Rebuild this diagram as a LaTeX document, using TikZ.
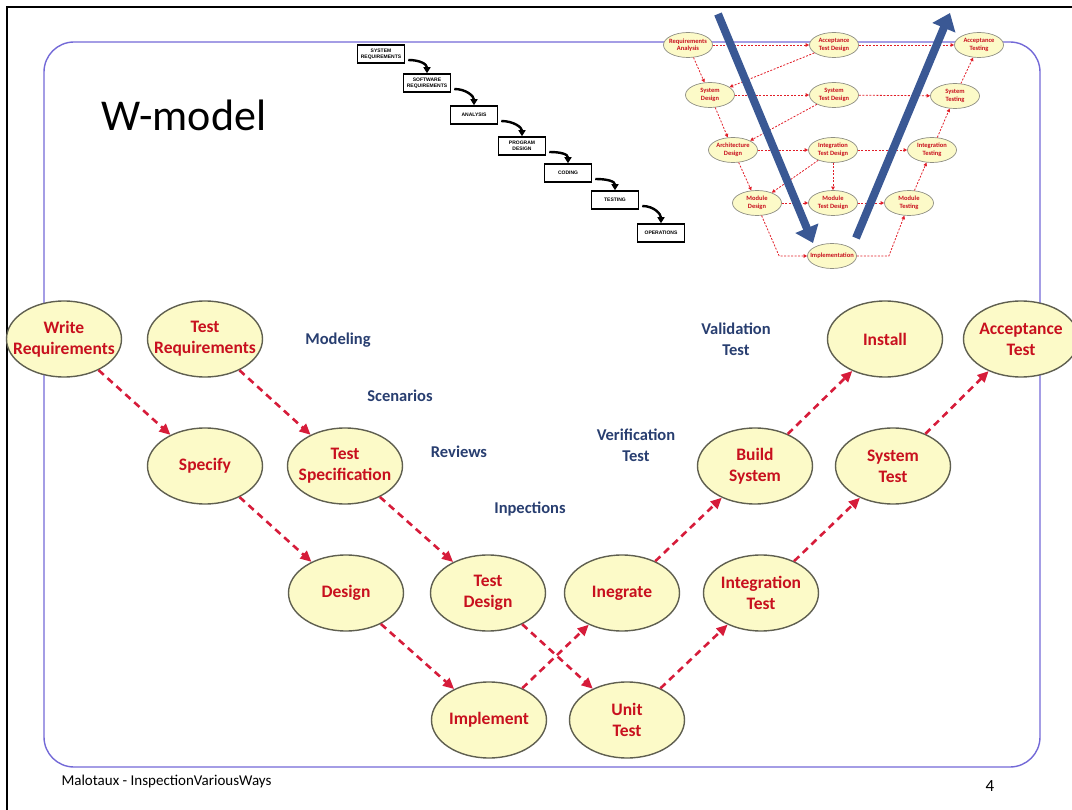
\documentclass[tikz,border=0pt]{standalone}
\usepackage{fontspec}
\setmainfont{Carlito}
\newfontfamily\wffont{Liberation Sans}
\usetikzlibrary{shapes.geometric,arrows.meta}
\definecolor{wfill}{RGB}{252,250,200}
\definecolor{wline}{RGB}{95,95,80}
\definecolor{wred}{RGB}{200,16,30}
\definecolor{warrow}{RGB}{214,28,58}
\definecolor{vred}{RGB}{225,30,40}
\definecolor{wblue}{RGB}{40,62,112}
\definecolor{wframe}{RGB}{115,105,215}
\definecolor{vblue}{RGB}{58,88,148}
\tikzset{
  wnode/.style={ellipse,draw=wline,line width=1.4pt,fill=wfill,minimum width=115pt,minimum height=76pt,
    inner xsep=-25pt,inner ysep=0pt,align=center,text=wred,font=\fontsize{17.5}{21}\selectfont\bfseries},
  wlink/.style={draw=warrow,line width=2.6pt,dash pattern=on 7pt off 5pt,-{Triangle[length=11pt,width=10pt]}},
  wlabel/.style={text=wblue,align=center,font=\fontsize{16.5}{21}\selectfont\bfseries},
  vnode/.style={ellipse,draw=wline!70,line width=0.7pt,fill=wfill,minimum width=49pt,minimum height=25pt,
    inner xsep=-8pt,inner ysep=0pt,align=center,text=wred,font=\fontsize{6.5}{7.5}\selectfont\bfseries},
  vlink/.style={draw=vred,line width=0.8pt,dash pattern=on 2pt off 1.5pt,-{Triangle[length=3.5pt,width=3.5pt]}},
  wfbox/.style={draw,line width=1.5pt,minimum width=47pt,minimum height=18pt,inner sep=1pt,align=center,
    font=\wffont\fontsize{5}{6}\selectfont\bfseries},
  wfarrow/.style={line width=2.4pt,-{Triangle[length=6pt,width=7pt]}},
  bigarrow/.style={draw=vblue,line width=8pt,-{Triangle[length=16pt,width=24pt]}}
}
\begin{document}
\begin{tikzpicture}[x=1pt,y=-1pt]
    \useasboundingbox (0,0) rectangle (1072,810);
    \draw[line width=2.5pt] (7,810) -- (7,7) -- (1072,7);
    \draw[wframe,line width=1.4pt,rounded corners=30pt] (44,42) rectangle (1040,767);
    \node[font=\fontsize{44}{50}\selectfont] (title) at (184,115) {W-model};
    \node[font=\fontsize{15}{17}\selectfont,anchor=west] (foot) at (58,781) {Malotaux - InspectionVariousWays};
    \node[font=\fontsize{17}{20}\selectfont] (page) at (990,786) {4};

    \node[wfbox] (wf1) at (381,54) {SYSTEM\\REQUIREMENTS}; \node[wfbox] (wf2) at (427,83) {SOFTWARE\\REQUIREMENTS};
    \node[wfbox] (wf3) at (474,115) {ANALYSIS}; \node[wfbox] (wf4) at (522,146) {PROGRAM\\DESIGN};
    \node[wfbox] (wf5) at (568,173) {CODING}; \node[wfbox] (wf6) at (615,200) {TESTING};
    \node[wfbox] (wf7) at (661,233) {OPERATIONS};
    \draw[wfarrow] ([shift={(3,6)}]wf1.east) .. controls +(12,0) and +(0,-9) .. (wf2.north);
    \draw[wfarrow] ([shift={(3,6)}]wf2.east) .. controls +(12,0) and +(0,-9) .. (wf3.north);
    \draw[wfarrow] ([shift={(3,6)}]wf3.east) .. controls +(12,0) and +(0,-9) .. (wf4.north);
    \draw[wfarrow] ([shift={(3,6)}]wf4.east) .. controls +(12,0) and +(0,-9) .. (wf5.north);
    \draw[wfarrow] ([shift={(3,6)}]wf5.east) .. controls +(12,0) and +(0,-9) .. (wf6.north);
    \draw[wfarrow] ([shift={(3,6)}]wf6.east) .. controls +(12,0) and +(0,-9) .. (wf7.north);

    \node[vnode] (vra) at (688,45) {Requirements\\Analysis}; \node[vnode] (vatd) at (834,45) {Acceptance\\Test Design};
    \node[vnode] (vat) at (979,45) {Acceptance\\Testing};
    \node[vnode] (vsd) at (710,95) {System\\Design}; \node[vnode] (vstd) at (834,95) {System\\Test Design};
    \node[vnode] (vst) at (955,96) {System\\Testing};
    \node[vnode] (vad) at (733,150) {Architecture\\Design}; \node[vnode] (vitd) at (833,150) {Integration\\Test Design};
    \node[vnode] (vit) at (932,150) {Integration\\Testing};
    \node[vnode] (vmd) at (757,203) {Module\\Design}; \node[vnode] (vmtd) at (833,203) {Module\\Test Design};
    \node[vnode] (vmt) at (909,203) {Module\\Testing};
    \node[vnode] (vim) at (832,256) {Implementation};
    \draw[vlink] (vra) -- (vsd); \draw[vlink] (vsd) -- (vad); \draw[vlink] (vad) -- (vmd);
    \draw[vlink] (vra) -- (vatd); \draw[vlink] (vatd) -- (vat); \draw[vlink] (vatd) -- (vsd);
    \draw[vlink] (vsd) -- (vstd); \draw[vlink] (vstd) -- (vst); \draw[vlink] (vstd) -- (vad);
    \draw[vlink] (vad) -- (vitd); \draw[vlink] (vitd) -- (vit); \draw[vlink] (vitd) -- (vmd);
    \draw[vlink] (vmd) -- (vmtd); \draw[vlink] (vitd) -- (vmtd); \draw[vlink] (vmtd) -- (vmt);
    \draw[vlink] (vmt) -- (vit); \draw[vlink] (vit) -- (vst); \draw[vlink] (vst) -- (vat);
    \draw[vlink] (vmd.-70) -- ([xshift=-28pt]vim.west) -- (vim.west);
    \draw[vlink] (vim.east) -- ([xshift=32pt]vim.east) -- (vmt.-110);
    \coordinate (d0) at (718,14); \coordinate (d1) at (813,243);
    \coordinate (u0) at (856,238); \coordinate (u1) at (950,13);
    \draw[bigarrow] (d0) -- (d1); \draw[bigarrow] (u0) -- (u1);

    \node[wnode] (wreq) at (64,339) {Write\\Requirements}; \node[wnode] (treq) at (205,339) {Test\\Requirements};
    \node[wnode] (spec) at (205,466) {Specify}; \node[wnode] (tspec) at (345,466) {Test\\Specification};
    \node[wnode] (des) at (346,593) {Design}; \node[wnode] (tdes) at (488,593) {Test\\Design};
    \node[wnode] (impl) at (489,720) {Implement}; \node[wnode] (utest) at (627,720) {Unit\\Test};
    \node[wnode] (integ) at (622,593) {Inegrate}; \node[wnode] (itest) at (761,593) {Integration\\Test};
    \node[wnode] (build) at (755,466) {Build\\System}; \node[wnode] (stest) at (893,466) {System\\Test};
    \node[wnode] (inst) at (885,339) {Install}; \node[wnode] (atest) at (1021,339) {Acceptance\\Test};
    \draw[wlink] (wreq) -- (spec); \draw[wlink] (treq) -- (tspec);
    \draw[wlink] (spec) -- (des); \draw[wlink] (tspec) -- (tdes);
    \draw[wlink] (des) -- (impl); \draw[wlink] (tdes) -- (utest);
    \draw[wlink] (impl) -- (integ); \draw[wlink] (utest) -- (itest);
    \draw[wlink] (integ) -- (build); \draw[wlink] (itest) -- (stest);
    \draw[wlink] (build) -- (inst); \draw[wlink] (stest) -- (atest);

    \node[wlabel] (model) at (338,340) {Modeling}; \node[wlabel] (scen) at (400,396) {Scenarios};
    \node[wlabel] (rev) at (459,452) {Reviews}; \node[wlabel] (insp) at (530,509) {Inpections};
    \node[wlabel] (verif) at (636,445) {Verification\\Test}; \node[wlabel] (valid) at (736,339) {Validation\\Test};
\end{tikzpicture}
\end{document}
